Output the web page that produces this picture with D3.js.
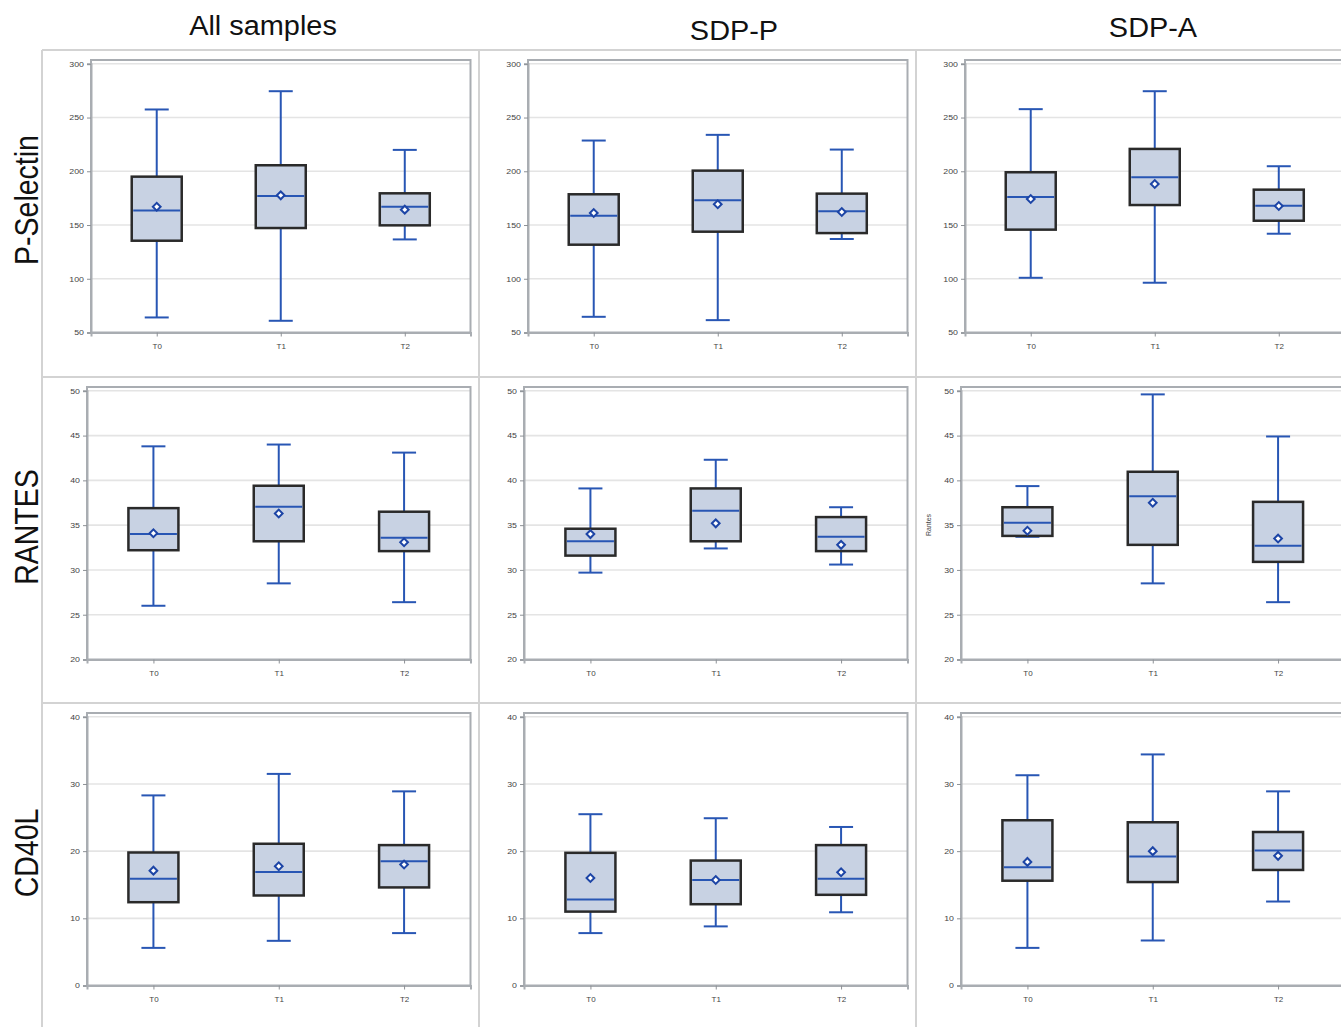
<!DOCTYPE html>
<html>
<head>
<meta charset="utf-8">
<script src="https://cdn.jsdelivr.net/npm/d3@7"></script>
<style>
body{margin:0;background:#fff;}
svg{display:block;font-family:"Liberation Sans",Arial,sans-serif;}
</style>
</head>
<body>
<div id="chart"></div>
<script>
const groups = ["All samples", "SDP-P", "SDP-A"];
const markers = ["P-Selectin", "RANTES", "CD40L"];
const timepoints = ["T0", "T1", "T2"];

const pselTicks = [50, 100, 150, 200, 250, 300];
const rantesTicks = [20, 25, 30, 35, 40, 45, 50];
const cd40lTicks = [0, 10, 20, 30, 40];

// each entry: [min, q1, median, q3, max, mean] for T0, T1, T2
const pselAll = [[64, 135.4, 163.4, 195, 257.5, 167], [60.9, 147.2, 177, 205.6, 274.5, 177.6], [136.6, 149.7, 167, 179.5, 219.9, 164.3]];
const pselSdpP = [[64.6, 131.7, 158.7, 178.6, 228.6, 161.2], [61.5, 143.8, 173, 200.6, 233.9, 169.3], [137, 142.5, 162.7, 179.2, 220.2, 162.1]];
const pselSdpA = [[100.9, 145.7, 176.1, 199.1, 257.8, 174.2], [96.3, 168.6, 194.4, 220.8, 274.5, 188.2], [141.9, 154, 168, 182.9, 204.7, 167.7]];

const rantesAll = [[26, 32.2, 34, 36.9, 43.8, 34.1], [28.5, 33.2, 37.05, 39.4, 44, 36.3], [26.4, 32.1, 33.6, 36.5, 43.1, 33.1]];
const rantesSdpP = [[29.7, 31.6, 33.2, 34.6, 39.1, 34], [32.4, 33.2, 36.6, 39.1, 42.3, 35.2], [30.6, 32.1, 33.7, 35.9, 37, 32.8]];
const rantesSdpA = [[33.7, 33.8, 35.26, 37, 39.36, 34.37], [28.5, 32.8, 38.24, 40.96, 49.6, 37.5], [26.4, 30.9, 32.7, 37.6, 44.9, 33.5]];

const cd40lAll = [[5.6, 12.4, 15.9, 19.8, 28.3, 17.1], [6.65, 13.4, 16.9, 21.1, 31.5, 17.75], [7.8, 14.6, 18.5, 20.9, 28.9, 18]];
const cd40lSdpP = [[7.8, 11, 12.8, 19.75, 25.5, 16], [8.8, 12.1, 15.7, 18.6, 24.9, 15.7], [10.9, 13.5, 15.9, 20.9, 23.6, 16.85]];
const cd40lSdpA = [[5.6, 15.6, 17.6, 24.6, 31.3, 18.4], [6.7, 15.4, 19.2, 24.3, 34.4, 20], [12.5, 17.2, 20.1, 22.85, 28.9, 19.3]];

const statRows = [[pselAll, pselSdpP, pselSdpA], [rantesAll, rantesSdpP, rantesSdpA], [cd40lAll, cd40lSdpP, cd40lSdpA]];
const tickRows = [pselTicks, rantesTicks, cd40lTicks];

const W = 1341, H = 1027;
const SX = 1.17; // the figure is slightly stretched sideways
const colX = [42, 479, 916];
const rowY = [50, 377, 703];
const axisLeft = [49, 45, 45];
const plotRight = 428.5;
const boxW = 50, capW = 24;

const blue = "#2856b4";
const meanBlue = "#1d45a6";

const svg = d3.select("#chart").append("svg").attr("width", W).attr("height", H);
svg.append("rect").attr("width", W).attr("height", H).attr("fill", "#fff");

// cell grid lines
const gridG = svg.append("g").attr("stroke", "#d3d3d3").attr("stroke-width", 2);
gridG.append("line").attr("x1", 42).attr("x2", W).attr("y1", 50).attr("y2", 50);
rowY.slice(1).forEach(y => gridG.append("line").attr("x1", 42).attr("x2", W).attr("y1", y).attr("y2", y));
colX.forEach(x => gridG.append("line").attr("x1", x).attr("x2", x).attr("y1", 50).attr("y2", H));

// headers
const headerPos = [[263, 35], [734, 40], [1153, 37]];
groups.forEach((g, i) => {
    svg.append("g").attr("transform", "translate(" + headerPos[i] + ") scale(1.07,1)")
        .append("text").attr("text-anchor", "middle").attr("font-size", 27).attr("fill", "#111").text(g);
});

// row labels
const rowLabelY = [200, 527, 853];
markers.forEach((m, i) => {
    svg.append("g").attr("transform", "translate(38," + rowLabelY[i] + ") scale(" + SX + ",1) rotate(-90)")
        .append("text").attr("text-anchor", "middle").attr("font-size", 28.5).attr("fill", "#111").text(m);
});

statRows.forEach((row, r) => {
    const ticks = tickRows[r];
    const ext = d3.extent(ticks);
    row.forEach((stats, c) => {
        const cx = colX[c], cy = rowY[r];
        const left = cx + axisLeft[r], right = cx + plotRight;
        const x = d3.scalePoint().domain(timepoints).range([left, right]).padding(0.53);
        const y = d3.scaleLinear().domain(ext).range([cy + 282.5, cy + 13.8]);
        const g = svg.append("g").attr("class", "panel");

        // gridlines
        g.append("g").selectAll("line").data(ticks.filter(t => t !== ext[0])).join("line")
            .attr("x1", left).attr("x2", right)
            .attr("y1", d => y(d)).attr("y2", d => y(d))
            .attr("stroke", "#e4e4e4").attr("stroke-width", 1.6);

        // frame
        g.append("rect").attr("x", left).attr("y", cy + 10)
            .attr("width", right - left).attr("height", y(ext[0]) - cy - 10)
            .attr("fill", "none").attr("stroke", "#a9adb2").attr("stroke-width", 2);

        // axes
        const yAxis = g.append("g").attr("transform", "translate(" + left + ",0)")
            .call(d3.axisLeft(y).tickValues(ticks).tickSize(4).tickPadding(2));
        const xAxis = g.append("g").attr("transform", "translate(0," + y(ext[0]) + ")")
            .call(d3.axisBottom(x).tickSize(4).tickPadding(7));
        [yAxis, xAxis].forEach(ax => {
            ax.select(".domain").attr("stroke", "#a9adb2").attr("stroke-width", 2);
            ax.selectAll(".tick line").attr("stroke", "#8d9196").attr("stroke-width", 1);
            ax.selectAll(".tick text").attr("font-size", 7.5).attr("fill", "#444")
                .attr("font-family", "'Liberation Sans', Arial, sans-serif")
                .attr("transform", "scale(" + SX + ",1)");
        });
        xAxis.selectAll(".tick text").attr("transform", null).attr("font-size", 8);

        if (r === 1 && c === 2) {
            g.append("text").attr("transform", "translate(931,525) rotate(-90)")
                .attr("text-anchor", "middle").attr("font-size", 7).attr("fill", "#444").text("Rantes");
        }

        const boxes = g.append("g").selectAll("g").data(stats).join("g")
            .attr("transform", (d, i) => "translate(" + x(timepoints[i]) + ",0)");

        // whiskers
        boxes.append("line").attr("y1", d => y(d[4])).attr("y2", d => y(d[3]))
            .attr("stroke", blue).attr("stroke-width", 2);
        boxes.append("line").attr("y1", d => y(d[1])).attr("y2", d => y(d[0]))
            .attr("stroke", blue).attr("stroke-width", 2);
        boxes.append("line").attr("x1", -capW / 2).attr("x2", capW / 2)
            .attr("y1", d => y(d[4])).attr("y2", d => y(d[4]))
            .attr("stroke", blue).attr("stroke-width", 2);
        boxes.append("line").attr("x1", -capW / 2).attr("x2", capW / 2)
            .attr("y1", d => y(d[0])).attr("y2", d => y(d[0]))
            .attr("stroke", blue).attr("stroke-width", 2);

        // box
        boxes.append("rect").attr("x", -boxW / 2).attr("width", boxW)
            .attr("y", d => y(d[3])).attr("height", d => y(d[1]) - y(d[3]))
            .attr("fill", "#c8d2e3").attr("stroke", "#2a2a2a").attr("stroke-width", 2.5);

        // median
        boxes.append("line").attr("x1", -boxW / 2 + 1.5).attr("x2", boxW / 2 - 1.5)
            .attr("y1", d => y(d[2])).attr("y2", d => y(d[2]))
            .attr("stroke", blue).attr("stroke-width", 2);

        // mean
        boxes.append("path").attr("d", d3.symbol(d3.symbolSquare, 30)())
            .attr("transform", d => "translate(0," + y(d[5]) + ") rotate(45)")
            .attr("fill", "#fff").attr("stroke", meanBlue).attr("stroke-width", 2);
    });
});
</script>
</body>
</html>
